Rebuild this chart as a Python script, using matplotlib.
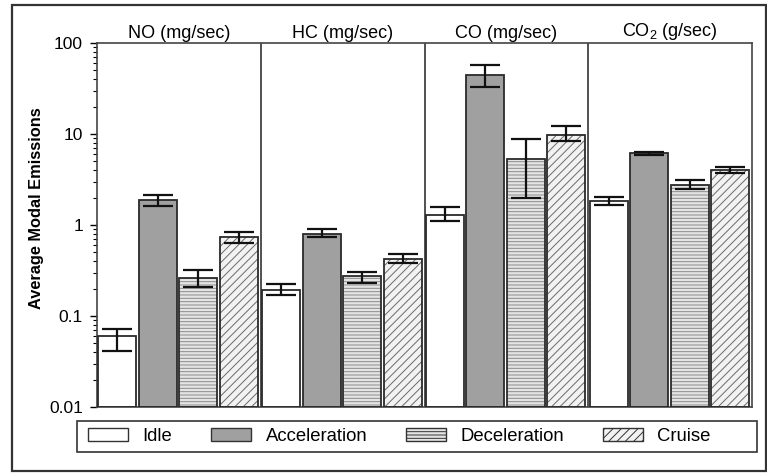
import numpy as np
import matplotlib
matplotlib.use("Agg")
import matplotlib.pyplot as plt
from matplotlib.patches import Rectangle, Patch

plt.rcParams['font.family'] = ['Liberation Sans', 'DejaVu Sans']
plt.rcParams['hatch.linewidth'] = 0.7
plt.rcParams['mathtext.fontset'] = 'custom'
plt.rcParams['mathtext.rm'] = 'Liberation Sans'

# Pollutant groups and driving modes
pollutants = ['NO (mg/sec)', 'HC (mg/sec)', 'CO (mg/sec)', 'CO$_2$ (g/sec)']
modes = ['Idle', 'Acceleration', 'Deceleration', 'Cruise']

# Mean emissions per mode (one value per pollutant)
idle = [0.060, 0.193, 1.29, 1.82]
acceleration = [1.86, 0.80, 44.5, 6.2]
deceleration = [0.262, 0.275, 5.3, 2.75]
cruise = [0.74, 0.42, 9.8, 4.05]

# Lower / upper ends of the error bars
idle_lo = [0.041, 0.170, 1.11, 1.66]
idle_hi = [0.072, 0.225, 1.58, 2.03]
accel_lo = [1.60, 0.738, 33.0, 5.95]
accel_hi = [2.14, 0.90, 57.0, 6.35]
decel_lo = [0.208, 0.232, 1.98, 2.49]
decel_hi = [0.320, 0.305, 8.8, 3.12]
cruise_lo = [0.634, 0.382, 8.3, 3.75]
cruise_hi = [0.838, 0.480, 12.2, 4.34]

means = [idle, acceleration, deceleration, cruise]
lows = [idle_lo, accel_lo, decel_lo, cruise_lo]
highs = [idle_hi, accel_hi, decel_hi, cruise_hi]

styles = [
    dict(facecolor='white', hatch=None, hatchcolor='#444444'),
    dict(facecolor='#a0a0a0', hatch=None, hatchcolor='#a0a0a0'),
    dict(facecolor='#e4e4e4', hatch='-----', hatchcolor='#8a8a8a'),
    dict(facecolor='#f2f2f2', hatch='////', hatchcolor='#6a6a6a'),
]

W, H = 767, 473
fig = plt.figure(figsize=(W / 100, H / 100), dpi=100)
ax = fig.add_axes([97 / W, (H - 407) / H, (752 - 97) / W, (407 - 43) / H])

n = len(pollutants)
width = 0.232
offsets = 0.125 + 0.247 * np.arange(4)
base = 0.01

for j, mode in enumerate(modes):
    x = np.arange(n) + offsets[j]
    vals = np.array(means[j])
    st = styles[j]
    ax.bar(x, vals - base, width, bottom=base, color=st['facecolor'],
           edgecolor=st['hatchcolor'], hatch=st['hatch'], linewidth=0, zorder=2)
    ax.bar(x, vals - base, width, bottom=base, fill=False,
           edgecolor='#2a2a2a', linewidth=1.3, zorder=3)
    yerr = [vals - np.array(lows[j]), np.array(highs[j]) - vals]
    ax.errorbar(x, vals, yerr=yerr, fmt='none', ecolor='#111111',
                elinewidth=1.6, capsize=11, capthick=1.6, zorder=4)

for k in range(1, n):
    ax.axvline(k, color='#333333', linewidth=1.2, zorder=1)

for k, name in enumerate(pollutants):
    ax.text(k + 0.5, 1.003, name, transform=ax.get_xaxis_transform(),
            ha='center', va='bottom', fontsize=13)

ax.set_yscale('log')
ax.set_ylim(0.01, 100)
ax.set_xlim(0, n)
ax.set_xticks([])
ax.set_yticks([0.01, 0.1, 1, 10, 100])
ax.set_yticklabels(['0.01', '0.1', '1', '10', '100'], fontsize=12.5)
ax.tick_params(axis='y', which='major', direction='out', length=5, width=1.0, pad=5)
ax.tick_params(axis='y', which='minor', direction='out', length=3, width=0.8)
for sp in ax.spines.values():
    sp.set_color('#444444')
    sp.set_linewidth(1.2)

ax.set_ylabel('Average Modal Emissions', fontsize=11.8, fontweight='bold')
ax.yaxis.set_label_coords(-(97 - 44) / (752 - 97), (407 - 208) / (407 - 43))

# Legend entries in one row, with a separate rectangular frame
handles = [Patch(facecolor=styles[j]['facecolor'], edgecolor='#333333',
                 hatch=styles[j]['hatch'], linewidth=1.0) for j in range(4)]
leg = fig.legend(handles, modes, loc='center left', ncol=4,
                 bbox_to_anchor=(88 / W, (H - 436.5) / H),
                 fontsize=13.3, frameon=False, handlelength=2.15,
                 handleheight=0.65, borderaxespad=0, borderpad=0,
                 handletextpad=0.8, columnspacing=2.1)
fig.patches.append(Rectangle((77 / W, (H - 452) / H), (757 - 77) / W, 31 / H,
                             transform=fig.transFigure, fill=False,
                             edgecolor='#333333', linewidth=1.2))

fig.patches.append(Rectangle((12 / W, (H - 471) / H), (766 - 12) / W, (471 - 5) / H,
                             transform=fig.transFigure, fill=False,
                             edgecolor='#333333', linewidth=1.6))

fig.savefig('out.png', dpi=100)
